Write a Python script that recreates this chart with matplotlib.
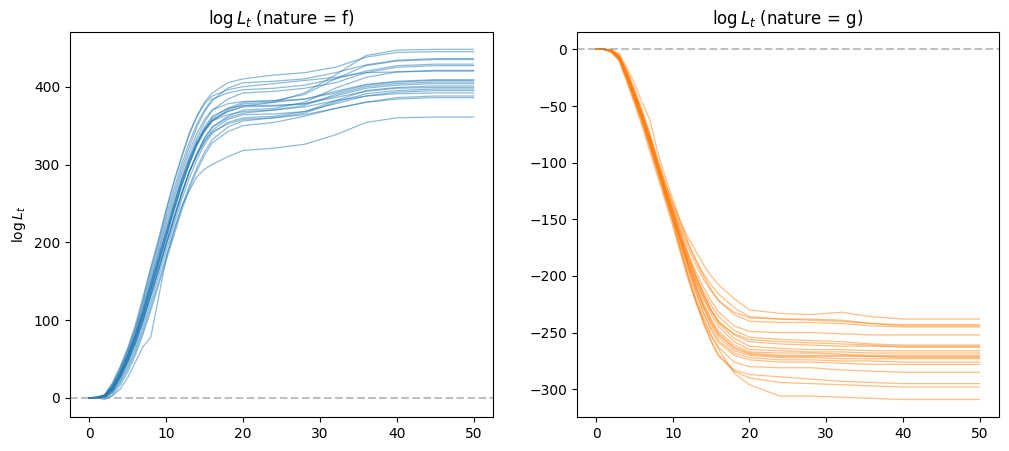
import matplotlib
matplotlib.use("Agg")
import matplotlib.pyplot as plt
import numpy as np

# temps auquel les valeurs ont été relevées
t = [0, 1, 2, 3, 4, 5, 6, 7, 8, 9, 10, 11, 12, 13, 14, 15, 16, 18, 20, 24, 28, 32, 36, 40, 45, 50]

# nature = f (courbes montantes)
logL_f = [
    [0, 0, 2, 11, 28, 50, 74, 104, 138, 172, 206, 240, 272, 300, 325, 345, 358, 368, 375, 380, 392, 415, 440, 447, 448, 448],
    [0, 1, 4, 18, 38, 62, 90, 126, 165, 200, 240, 276, 308, 338, 362, 380, 392, 405, 410, 415, 418, 425, 438, 444, 445, 445],
    [0, 0, 3, 15, 34, 57, 84, 118, 155, 190, 228, 262, 294, 322, 348, 368, 382, 398, 405, 407, 410, 418, 428, 434, 436, 436],
    [0, 0, 2, 12, 30, 52, 78, 108, 142, 176, 210, 244, 276, 304, 328, 346, 360, 372, 380, 382, 390, 410, 427, 433, 435, 435],
    [0, 1, 3, 16, 36, 60, 88, 122, 160, 196, 234, 268, 300, 328, 352, 370, 384, 392, 396, 398, 402, 410, 420, 427, 429, 429],
    [0, 0, 2, 13, 31, 54, 80, 112, 148, 182, 216, 250, 282, 310, 334, 354, 370, 384, 392, 394, 398, 405, 418, 425, 427, 427],
    [0, 0, 1, 8, 24, 44, 68, 97, 130, 162, 196, 228, 260, 290, 314, 334, 348, 362, 370, 372, 380, 398, 412, 419, 421, 421],
    [0, 1, 4, 19, 40, 64, 94, 130, 168, 204, 242, 278, 310, 340, 362, 378, 388, 396, 400, 404, 408, 412, 418, 419, 420, 420],
    [0, 0, 2, 12, 29, 51, 77, 107, 140, 174, 208, 242, 274, 302, 326, 344, 356, 370, 378, 380, 384, 394, 403, 407, 409, 409],
    [0, 0, 3, 14, 33, 56, 83, 115, 150, 186, 222, 256, 288, 316, 340, 358, 370, 378, 381, 382, 384, 392, 402, 406, 408, 408],
    [0, 1, 2, 9, 25, 46, 70, 99, 132, 165, 198, 230, 262, 290, 314, 334, 348, 360, 366, 370, 376, 390, 400, 404, 406, 406],
    [0, 0, 2, 11, 28, 49, 75, 105, 138, 172, 206, 240, 272, 300, 324, 342, 356, 368, 374, 375, 378, 388, 398, 402, 404, 404],
    [0, 0, 1, 7, 21, 40, 63, 91, 123, 156, 189, 222, 254, 282, 306, 326, 340, 354, 360, 362, 368, 382, 395, 399, 401, 401],
    [0, 1, 3, 13, 31, 53, 79, 110, 144, 178, 212, 246, 278, 306, 330, 348, 362, 372, 376, 376, 378, 386, 394, 398, 399, 399],
    [0, 0, 1, 6, 19, 37, 59, 86, 117, 149, 181, 213, 244, 272, 296, 316, 332, 348, 356, 360, 366, 380, 391, 395, 397, 397],
    [0, 0, 1, 9, 26, 46, 70, 99, 131, 164, 197, 230, 262, 290, 312, 330, 344, 358, 364, 365, 368, 378, 388, 393, 395, 395],
    [0, 0, 2, 10, 27, 48, 73, 102, 134, 167, 200, 232, 263, 290, 312, 330, 342, 352, 358, 360, 364, 372, 380, 386, 388, 388],
    [0, 0, -2, 3, 16, 33, 55, 82, 112, 144, 176, 208, 240, 268, 292, 312, 328, 342, 350, 354, 362, 372, 380, 384, 386, 386],
    [0, 1, 3, 14, 32, 55, 81, 112, 146, 180, 214, 248, 280, 306, 328, 344, 356, 364, 368, 370, 374, 382, 388, 391, 392, 392],
    [0, 0, 0, 3, 11, 26, 46, 66, 78, 128, 180, 215, 246, 266, 284, 294, 300, 310, 318, 321, 326, 338, 354, 360, 361, 361],
]

# nature = g (courbes descendantes)
logL_g = [
    [0, 0, -1, -6, -20, -37, -55, -75, -98, -118, -136, -152, -166, -178, -190, -200, -208, -220, -230, -233, -234, -232, -236, -238, -238, -238],
    [0, 0, -1, -5, -18, -35, -54, -74, -96, -117, -136, -155, -172, -186, -198, -208, -216, -228, -236, -238, -239, -240, -242, -243, -243, -243],
    [0, 0, -2, -7, -22, -40, -58, -78, -100, -121, -140, -158, -175, -190, -203, -213, -222, -232, -237, -238, -238, -239, -242, -244, -244, -244],
    [0, 0, 0, -4, -16, -30, -47, -62, -90, -112, -132, -152, -170, -186, -200, -212, -222, -234, -240, -241, -241, -242, -244, -245, -245, -245],
    [0, 0, -1, -6, -20, -38, -57, -77, -99, -120, -140, -160, -180, -196, -210, -222, -232, -244, -249, -250, -250, -251, -252, -252, -252, -252],
    [0, 0, -2, -8, -24, -42, -61, -82, -104, -126, -146, -166, -184, -200, -214, -226, -236, -248, -254, -256, -257, -258, -260, -261, -261, -261],
    [0, 0, -1, -6, -21, -39, -58, -79, -101, -123, -143, -163, -183, -201, -217, -230, -240, -252, -258, -260, -261, -262, -262, -262, -262, -262],
    [0, 0, -2, -9, -26, -44, -63, -84, -106, -128, -148, -168, -187, -204, -219, -231, -241, -251, -256, -258, -259, -260, -261, -263, -263, -263],
    [0, 0, -1, -7, -22, -40, -59, -80, -102, -124, -144, -165, -186, -204, -220, -234, -245, -258, -265, -266, -267, -267, -268, -268, -268, -268],
    [0, 0, -2, -8, -25, -43, -62, -83, -105, -127, -147, -168, -189, -207, -224, -238, -249, -261, -267, -268, -268, -269, -270, -270, -270, -270],
    [0, 0, -1, -6, -21, -39, -58, -79, -101, -123, -144, -166, -188, -208, -226, -240, -251, -263, -268, -270, -270, -270, -271, -271, -271, -271],
    [0, 0, -2, -8, -24, -42, -61, -82, -104, -126, -147, -169, -191, -210, -227, -241, -252, -264, -269, -271, -271, -271, -271, -272, -272, -272],
    [0, 0, -1, -7, -23, -41, -60, -81, -103, -125, -146, -168, -190, -210, -228, -243, -254, -266, -270, -272, -272, -273, -273, -273, -273, -273],
    [0, 0, -2, -9, -26, -45, -64, -85, -107, -129, -150, -172, -194, -214, -232, -246, -257, -268, -272, -274, -274, -275, -275, -276, -276, -276],
    [0, 0, -1, -6, -21, -39, -58, -79, -101, -124, -146, -170, -193, -214, -233, -248, -259, -270, -274, -276, -276, -277, -278, -278, -278, -278],
    [0, 0, -2, -8, -25, -43, -62, -84, -106, -129, -151, -175, -198, -219, -237, -252, -263, -276, -280, -281, -281, -283, -284, -285, -285, -285],
    [0, 0, -2, -9, -27, -46, -66, -87, -109, -131, -153, -177, -200, -222, -241, -257, -270, -283, -287, -289, -291, -293, -294, -295, -295, -295],
    [0, 0, -1, -7, -23, -41, -60, -81, -104, -128, -151, -176, -201, -223, -242, -258, -271, -284, -290, -294, -295, -296, -297, -298, -298, -298],
    [0, 0, -3, -10, -29, -48, -68, -90, -112, -134, -156, -180, -203, -222, -239, -253, -265, -286, -296, -306, -306, -307, -308, -309, -309, -309],
    [0, 0, -1, -6, -21, -38, -57, -78, -100, -122, -142, -162, -181, -199, -216, -230, -242, -255, -262, -264, -265, -265, -266, -266, -266, -266],
]

fig = plt.figure(figsize=(10.09, 4.51), dpi=100)
ax1 = fig.add_axes([0.0694, 0.0754, 0.419, 0.854])
ax2 = fig.add_axes([0.5718, 0.0754, 0.418, 0.854])

for courbe in logL_f:
    ax1.plot(t, courbe, color="C0", alpha=0.5, lw=0.9)
ax1.axhline(0, color="gray", ls="--", alpha=0.5)
ax1.set_title(r"$\log L_t$ (nature = f)")
ax1.set_ylabel(r"$\log L_t$")

for courbe in logL_g:
    ax2.plot(t, courbe, color="C1", alpha=0.5, lw=0.9)
ax2.axhline(0, color="gray", ls="--", alpha=0.5)
ax2.set_title(r"$\log L_t$ (nature = g)")

fig.savefig("out.png", dpi=100)
